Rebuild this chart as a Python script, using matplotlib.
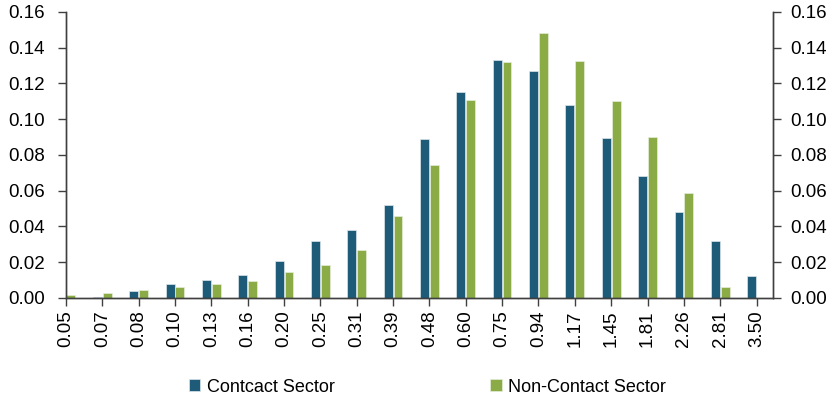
import matplotlib.pyplot as plt
import numpy as np

plt.rcParams['font.family'] = ['Liberation Sans', 'DejaVu Sans']

categories = ['0.05', '0.07', '0.08', '0.10', '0.13', '0.16', '0.20', '0.25', '0.31', '0.39',
              '0.48', '0.60', '0.75', '0.94', '1.17', '1.45', '1.81', '2.26', '2.81', '3.50']
contact = [0.0, 0.0007, 0.0041, 0.0076, 0.0099, 0.0129, 0.0207, 0.0321, 0.0380, 0.0520,
           0.0891, 0.1152, 0.1332, 0.1269, 0.1081, 0.0897, 0.0683, 0.0481, 0.0321, 0.0122]
non_contact = [0.0018, 0.0028, 0.0046, 0.0063, 0.0077, 0.0095, 0.0148, 0.0187, 0.0270, 0.0456,
               0.0743, 0.1109, 0.1319, 0.1481, 0.1326, 0.1101, 0.0901, 0.0585, 0.0064, 0.0]

blue = '#1d5b79'
green = '#8aab45'
axcol = '#404040'

fig = plt.figure(figsize=(8.33, 4.04), dpi=100)
ax = fig.add_axes([0.0792, 0.2624, 0.8491, 0.7079])

index = np.arange(len(categories))
width = 0.245
ax.bar(index - 0.135, contact, width, color=blue, edgecolor='#dce6ec', linewidth=0.5,
       label='Contcact Sector')
ax.bar(index + 0.135, non_contact, width, color=green, edgecolor='#e6eedb', linewidth=0.5,
       label='Non-Contact Sector')

ax.set_xlim(0, 19.46)
ax.set_ylim(0, 0.16)
yt = np.arange(0, 0.161, 0.02)
ax.set_yticks(yt)
ax.set_yticklabels(['%.2f' % v for v in yt])
ax.set_xticks(index)
ax.set_xticklabels(categories, rotation=90)

ax2 = ax.twinx()
ax2.set_ylim(0, 0.16)
ax2.set_yticks(yt)
ax2.set_yticklabels(['%.2f' % v for v in yt])

for a in (ax, ax2):
    a.spines['top'].set_visible(False)
    for s in ('left', 'right', 'bottom'):
        a.spines[s].set_color(axcol)
        a.spines[s].set_linewidth(1.0)
    a.tick_params(axis='both', direction='out', length=6, width=1.0, color=axcol,
                  labelsize=13.5, labelcolor='black')
ax.tick_params(axis='y', pad=9)
ax2.tick_params(axis='y', pad=6)
ax.tick_params(axis='x', pad=3)

fig.legend(loc='center', bbox_to_anchor=(0.513, 0.042), ncol=2, frameon=False,
           fontsize=13, handlelength=0.65, handleheight=0.65, handletextpad=0.35,
           columnspacing=8.6, borderaxespad=0)

fig.savefig('out.png', dpi=100)
